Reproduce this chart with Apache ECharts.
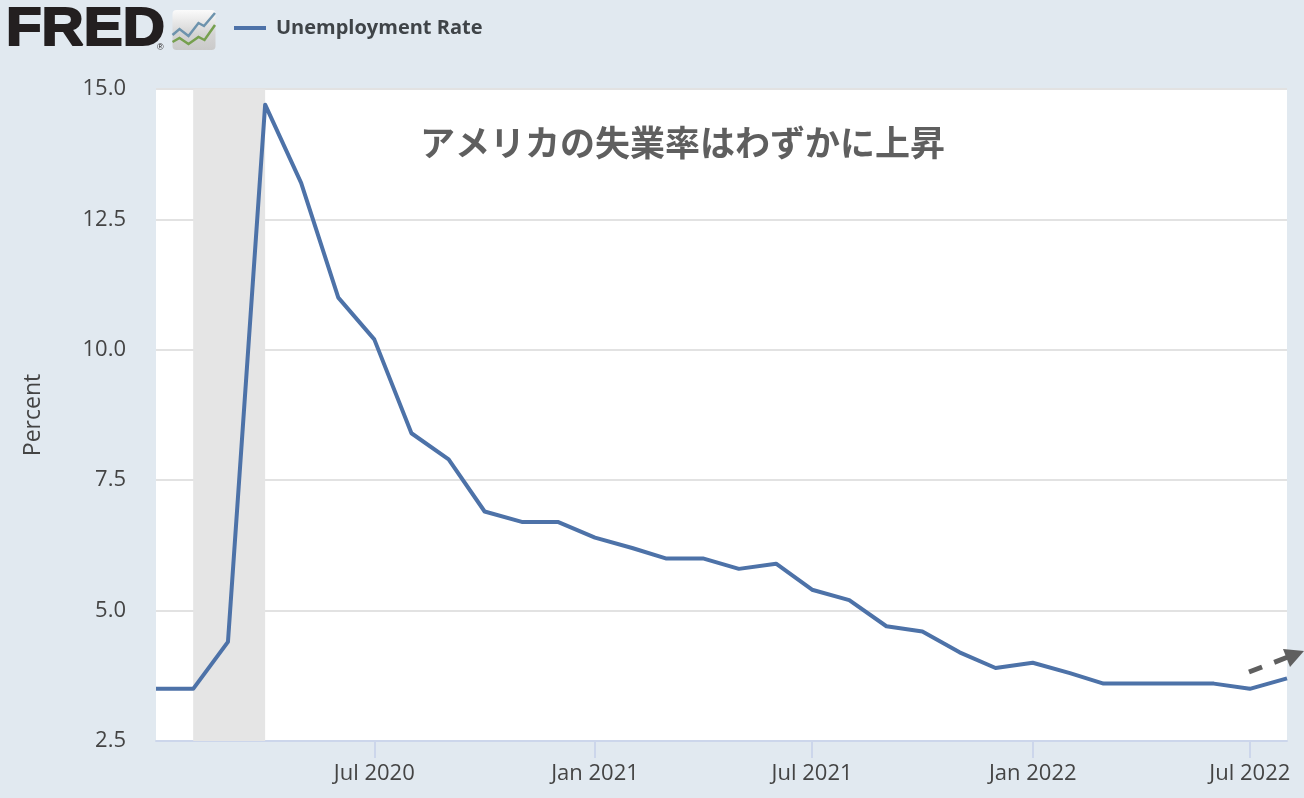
<!DOCTYPE html>
<html><head><meta charset="utf-8">
<style>html,body{margin:0;padding:0;background:#e1e9f0}#c{width:1304px;height:798px}</style>
<script src="https://cdn.jsdelivr.net/npm/echarts@6/dist/echarts.min.js"></script>
</head><body><div id="c"></div>
<script>
const months = ['2020-01','2020-02','2020-03','2020-04','2020-05','2020-06','2020-07','2020-08','2020-09','2020-10','2020-11','2020-12',
'2021-01','2021-02','2021-03','2021-04','2021-05','2021-06','2021-07','2021-08','2021-09','2021-10','2021-11','2021-12',
'2022-01','2022-02','2022-03','2022-04','2022-05','2022-06','2022-07','2022-08'];
const unemployment = [3.5,3.5,4.4,14.7,13.2,11.0,10.2,8.4,7.9,6.9,6.7,6.7,
6.4,6.2,6.0,6.0,5.8,5.9,5.4,5.2,4.7,4.6,4.2,3.9,
4.0,3.8,3.6,3.6,3.6,3.6,3.5,3.7];
const tickMonths = ['2020-07','2021-01','2021-07','2022-01','2022-07'];
const tickLabels = ['Jul 2020','Jan 2021','Jul 2021','Jan 2022','Jul 2022'];
const recession = ['2020-02','2020-04'];
const seriesName = 'Unemployment Rate';
const yTitle = 'Percent';
const note = 'アメリカの失業率はわずかに上昇';

const t = m => Date.parse(m + '-01T00:00:00Z');
const tickVals = tickMonths.map(t);
const sans = '"Open Sans","Noto Sans",sans-serif';
const chart = echarts.init(document.getElementById('c'), null, {renderer:'canvas'});
chart.setOption({
  backgroundColor:'#e1e9f0',
  animation:false,
  grid:{left:156,right:17,top:89,bottom:57,show:true,backgroundColor:'#fff',borderWidth:0,containLabel:false},
  legend:{show:true,left:234,top:18,padding:0,itemWidth:32,itemHeight:4,itemGap:10,icon:'rect',
    textStyle:{fontFamily:sans,fontWeight:700,fontSize:20,color:'#3f4448',padding:[0,0,3,5]},
    data:[{name:seriesName}]},
  title:{text:note,left:420,top:125,padding:0,textStyle:{fontFamily:'"Noto Sans CJK JP"',fontWeight:700,fontSize:35,color:'#5f5f5f'}},
  xAxis:{type:'value',min:t(months[0]),max:t(months[months.length-1]),scale:true,
    axisLine:{show:true,lineStyle:{color:'#ccd6eb',width:2}},
    axisTick:{show:true,length:17,customValues:tickVals,lineStyle:{color:'#ccd6eb',width:2}},
    axisLabel:{show:true,customValues:tickVals,margin:22,hideOverlap:false,fontFamily:sans,fontSize:22,color:'#444',
      formatter:v=>tickLabels[tickVals.indexOf(v)]||''},
    splitLine:{show:false}},
  yAxis:{type:'value',min:2.5,max:15,interval:2.5,
    name:yTitle,nameLocation:'middle',nameGap:111,nameTextStyle:{fontFamily:sans,fontSize:23,color:'#444'},
    axisLine:{show:false},axisTick:{show:false},
    axisLabel:{margin:30,fontFamily:sans,fontSize:22,color:'#444',padding:[6,0,0,0],formatter:v=>v.toFixed(1)},
    splitLine:{show:true,lineStyle:{color:'#e2e2e2',width:2}}},
  series:[{name:seriesName,type:'line',symbol:'none',smooth:false,
    lineStyle:{color:'#4d72a8',width:4,join:'round'},itemStyle:{color:'#4d72a8'},
    data:months.map((m,i)=>[t(m),unemployment[i]]),
    markArea:{silent:true,itemStyle:{color:'#e5e5e5'},label:{show:false},
      data:[[{xAxis:t(recession[0])},{xAxis:t(recession[1])}]]}}],
  graphic:[
    {type:'text',x:6,y:30.5,scaleX:1.08,style:{text:'FRED',font:'900 54px "Liberation Sans"',verticalAlign:'middle',fill:'#231f20',stroke:'#231f20',lineWidth:2}},
    {type:'text',x:157,y:47.5,style:{text:'®',font:'9px "Liberation Sans"',verticalAlign:'middle',fill:'#231f20'}},
    {type:'group',x:172.5,y:10,children:[
      {type:'rect',shape:{x:0,y:0,width:43,height:40,r:4},style:{fill:new echarts.graphic.LinearGradient(0,0,0,1,[{offset:0,color:'#fbfbfb'},{offset:0.6,color:'#d4d4d4'},{offset:1,color:'#cacaca'}])}},
      {type:'polyline',shape:{points:[[0,25],[7,19],[16,26],[26,13],[31.5,16],[42.5,3]]},style:{fill:null,stroke:'#6d93ad',lineWidth:2.5}},
      {type:'polyline',shape:{points:[[0,32],[7,28],[16,34],[26,27],[32,30],[42.5,15]]},style:{fill:null,stroke:'#76a04f',lineWidth:2.5}}
    ]},
    {type:'line',shape:{x1:1249,y1:672,x2:1288,y2:657},style:{stroke:'#5f5f5f',lineWidth:5,lineDash:[14,13]}},
    {type:'polygon',shape:{points:[[1304,651],[1283,649],[1290,667]]},style:{fill:'#5f5f5f'}}
  ]
});
</script></body></html>
